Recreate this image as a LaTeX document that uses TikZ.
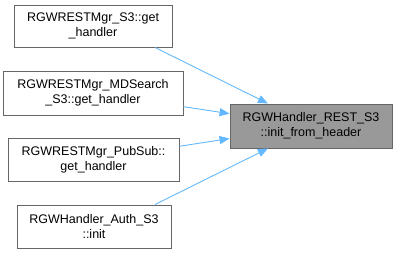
\documentclass[tikz,border=0pt]{standalone}
\usepackage{fontspec}
\setmainfont{Liberation Sans}
\usepackage{tikz}
\usetikzlibrary{arrows.meta}
\definecolor{edgeblue}{HTML}{63B8FF}
\definecolor{boxline}{HTML}{666666}
\definecolor{boxfill}{HTML}{999999}

\begin{document}
\begin{tikzpicture}[x=1pt,y=-1pt,
    fn/.style={draw=boxline,fill=white,line width=0.9pt,align=center,inner sep=0pt,
      font=\fontsize{12.5}{15}\selectfont},
    callee/.style={fn,fill=boxfill},
    calls/.style={draw=edgeblue,line width=0.9pt,-{Triangle[length=10pt,width=8pt]}}]
  \useasboundingbox (0,0) rectangle (397,253);

  % callers on the left
  \node[fn,minimum width=158pt,minimum height=42pt] (s3) at (93,26) {RGWRESTMgr\_S3::get\\\_handler};
  \node[fn,minimum width=180pt,minimum height=44pt] (mds) at (93,93) {RGWRESTMgr\_MDSearch\\\_S3::get\_handler};
  \node[fn,minimum width=171pt,minimum height=43pt] (pubsub) at (93.5,159.5) {RGWRESTMgr\_PubSub::\\get\_handler};
  \node[fn,minimum width=154pt,minimum height=43pt] (auth) at (94,226.5) {RGWHandler\_Auth\_S3\\::init};

  % the function itself
  \node[callee,minimum width=162pt,minimum height=44pt] (init) at (311,126) {RGWHandler\_REST\_S3\\::init\_from\_header};

  \draw[calls] ([xshift=62pt]s3.south) -- ([xshift=-43pt]init.north);
  \foreach \c in {mds,pubsub}
    \draw[calls] (\c) -- (init);
  \draw[calls] ([xshift=61pt]auth.north) -- ([xshift=-43pt]init.south);
\end{tikzpicture}
\end{document}
